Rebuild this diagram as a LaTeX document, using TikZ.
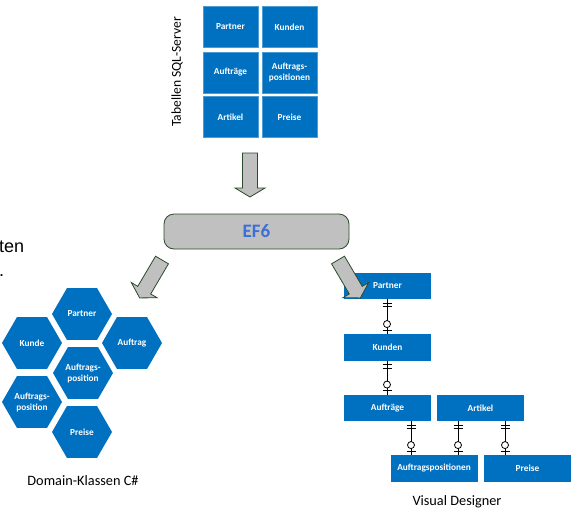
\documentclass[tikz,border=0pt]{standalone}
\usepackage{fontspec}
\setmainfont{Carlito}
\newfontfamily\arialfont{Liberation Sans}
\usetikzlibrary{shapes.geometric,calc}
\definecolor{boxblue}{HTML}{0070C0}
\definecolor{arrgray}{HTML}{C0C0C0}
\definecolor{arrline}{HTML}{2A4A2A}
\definecolor{eftext}{HTML}{3C6FD8}
\tikzset{
  lbl/.style={font=\bfseries\fontsize{9.3}{11}\selectfont, text=white, align=center},
  cell/.style={lbl, fill=boxblue, draw=boxblue!70!white, line width=0.4pt, minimum width=55, minimum height=41, inner sep=0},
  erbox/.style={lbl, fill=boxblue, minimum width=87, minimum height=26.5, inner sep=0},
  hexa/.style={lbl, regular polygon, regular polygon sides=6, fill=boxblue, minimum size=60, inner sep=0},
  efbox/.style={draw=arrline, line width=0.8pt, fill=arrgray, rounded corners=10, minimum width=185, minimum height=35,
     text=eftext, font=\bfseries\fontsize{19}{21}\selectfont},
  caption/.style={font=\fontsize{14.3}{16}\selectfont, inner sep=0},
  erline/.style={line width=0.8pt, black},
  bigarrow/.pic={\draw[draw=arrline, line width=0.8pt, fill=arrgray, line join=miter]
     (-7.5,0) -- (-7.5,35) -- (-15,35) -- (0,44) -- (15,35) -- (7.5,35) -- (7.5,0) -- cycle;}
}
\newcommand\erlink[3]{%
  \draw[erline] (#1 |- #2.south) -- (#1 |- #3.north);
  \draw[erline] ($(#1 |- #2.south)+(-4.5,3.5)$) -- ++(9,0);
  \draw[erline] ($(#1 |- #2.south)+(-4.5,7)$) -- ++(9,0);
  \draw[erline, fill=white] ($(#1 |- #3.north)+(0,-10)$) circle (3.5);
  \draw[erline] ($(#1 |- #3.north)+(-4.5,-4)$) -- ++(9,0);
}
\begin{document}
\begin{tikzpicture}[x=1pt,y=-1pt]
\useasboundingbox[fill=white] (0,0) rectangle (574,507);

% left cut-off text
\node[anchor=base west, inner sep=0, font=\arialfont\fontsize{18}{20}\selectfont] (cut1) at (-1,252) {ten};
\node[anchor=base west, inner sep=0, font=\arialfont\fontsize{18}{20}\selectfont] (cut2) at (-1,276) {.};

% SQL tables
\node[caption, font=\fontsize{13.6}{15}\selectfont, rotate=90] (tabtitle) at (177,72) {Tabellen SQL-Server};
\node[cell] (tpartner) at (230.5,27) {Partner};
\node[cell] (tkunden) at (289.5,27) {Kunden};
\node[cell] (tauftraege) at (230.5,72.5) {Aufträge};
\node[cell] (tap) at (289.5,72.5) {Auftrags-\\positionen};
\node[cell] (tartikel) at (230.5,117) {Artikel};
\node[cell] (tpreise) at (289.5,117) {Preise};

% EF6
\node[efbox] (ef) at (256.5,231.5) {EF6};

% hexagons
\node[hexa] (hpartner) at (82,314) {Partner};
\node[hexa] (hkunde) at (32,343) {Kunde};
\node[hexa] (hauftrag) at (132,343) {Auftrag};
\node[hexa] (hap1) at (83,373) {Auftrags-\\position};
\node[hexa] (hap2) at (32,402) {Auftrags-\\position};
\node[hexa] (hpreise) at (82,432) {Preise};
\node[caption] (domcap) at (83,481) {Domain-Klassen C\#};

% visual designer
\node[erbox] (epartner) at (387.5,286) {Partner};
\node[erbox] (ekunden) at (387.5,347.5) {Kunden};
\node[erbox] (eauftraege) at (387.5,408) {Aufträge};
\node[erbox] (eartikel) at (480.5,408) {Artikel};
\node[erbox] (eap) at (434,468.5) {Auftragspositionen};
\node[erbox] (epreise) at (527.5,468.5) {Preise};
\node[caption] (vdcap) at (457,502) {Visual Designer};

\coordinate (xa) at (387,0);
\coordinate (xb) at (411,0);
\coordinate (xc) at (458,0);
\coordinate (xd) at (505,0);
\erlink{xa}{epartner}{ekunden}
\erlink{xa}{ekunden}{eauftraege}
\erlink{xb}{eauftraege}{eap}
\erlink{xc}{eartikel}{eap}
\erlink{xd}{eartikel}{epreise}

% arrows (drawn on top)
\pic at (250,153) {bigarrow};
\pic[rotate=30.5] at (338,260) {bigarrow};
\pic[rotate=-30.5] at (162,260) {bigarrow};
\end{tikzpicture}
\end{document}
